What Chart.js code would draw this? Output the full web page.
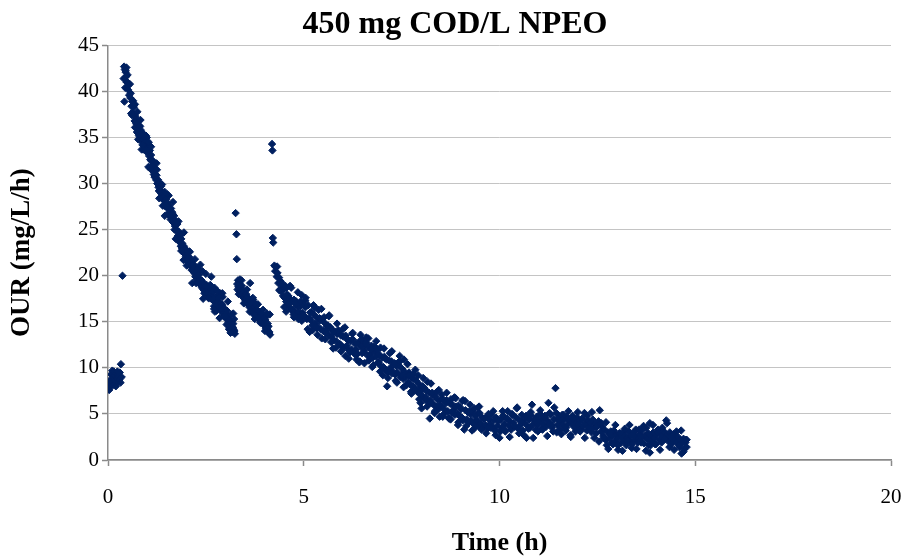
<!DOCTYPE html>
<html>
<head>
<meta charset="utf-8">
<title>450 mg COD/L NPEO</title>
<script src="https://cdn.jsdelivr.net/npm/chart.js@4.4.1/dist/chart.umd.min.js"></script>
<style>
  html, body { margin: 0; padding: 0; background: #ffffff; }
  #chart { display: block; }
</style>
</head>
<body>
<canvas id="chart" width="910" height="559"></canvas>
<script>
const chartTitle = "450 mg COD/L NPEO";
const xAxisTitle = "Time (h)";
const yAxisTitle = "OUR (mg/L/h)";
const xTicks = [0, 5, 10, 15, 20];
const yTicks = [0, 5, 10, 15, 20, 25, 30, 35, 40, 45];

// [time (h), OUR (mg/L/h)]
const baselinePoints = [
  [0.02, 8.2], [0.03, 7.6], [0.05, 8.0], [0.06, 8.7], [0.08, 9.3], [0.09, 8.4], [0.11, 9.7], [0.12, 8.1],
  [0.14, 9.0], [0.15, 9.6], [0.17, 9.2], [0.18, 8.6], [0.20, 8.0], [0.21, 9.4], [0.23, 8.9], [0.24, 9.6],
  [0.26, 8.5], [0.27, 9.1], [0.29, 8.7], [0.30, 9.5], [0.32, 8.4], [0.33, 10.4], [0.35, 9.0], [0.37, 20.0],
];

const firstPulsePoints = [
  [0.40, 41.4], [0.41, 42.7], [0.42, 38.9], [0.43, 42.4], [0.44, 40.4], [0.45, 42.1], [0.46, 41.6], [0.47, 42.6],
  [0.48, 41.0], [0.50, 41.8], [0.51, 40.2], [0.52, 40.9], [0.54, 39.6], [0.56, 40.8], [0.57, 39.3], [0.58, 39.8],
  [0.60, 38.4], [0.62, 38.9], [0.63, 37.7], [0.65, 37.5], [0.66, 38.3], [0.68, 36.8], [0.69, 36.1], [0.70, 37.3],
  [0.72, 36.5], [0.73, 37.0], [0.74, 35.6], [0.76, 36.4], [0.77, 34.8], [0.78, 35.9], [0.80, 36.3], [0.82, 36.2],
  [0.83, 35.2], [0.85, 34.6], [0.86, 33.7], [0.87, 35.5], [0.89, 34.8], [0.91, 34.3], [0.92, 35.2], [0.94, 34.0],
  [0.96, 34.6], [0.97, 33.5], [0.99, 35.0], [1.00, 34.2], [1.02, 33.5], [1.03, 33.9], [1.05, 33.0], [1.07, 33.6],
  [1.08, 32.6], [1.10, 33.1], [1.12, 32.4], [1.13, 31.8], [1.15, 32.1], [1.16, 31.3], [1.18, 31.7], [1.20, 30.9],
  [1.21, 31.5], [1.23, 30.4], [1.24, 30.9], [1.26, 30.0], [1.28, 30.4], [1.29, 29.6], [1.31, 30.1], [1.32, 29.3],
  [1.34, 29.7], [1.36, 28.9], [1.37, 29.2], [1.39, 28.5], [1.41, 29.0], [1.42, 28.2], [1.44, 28.6], [1.46, 28.1],
  [1.47, 27.5], [1.49, 28.3], [1.51, 27.4], [1.52, 27.9], [1.54, 26.8], [1.56, 27.6], [1.58, 27.2], [1.59, 26.5],
  [1.61, 27.3], [1.63, 26.3], [1.64, 26.9], [1.66, 25.8], [1.67, 26.1], [1.69, 26.5], [1.71, 25.4], [1.72, 26.0],
  [1.74, 24.9], [1.75, 25.0], [1.77, 25.6], [1.78, 24.3], [1.80, 24.8], [1.81, 23.9], [1.83, 24.5], [1.84, 23.6],
  [1.86, 23.2], [1.87, 24.0], [1.89, 23.0], [1.90, 23.5], [1.92, 22.6], [1.94, 23.2], [1.95, 22.4], [1.97, 22.9],
  [1.99, 22.1], [2.00, 22.7], [2.02, 21.8], [2.04, 22.4], [2.05, 21.7], [2.07, 21.3], [2.08, 22.0], [2.10, 21.4],
  [2.12, 21.0], [2.13, 21.6], [2.15, 20.7], [2.16, 21.2], [2.18, 20.7], [2.20, 20.3], [2.21, 20.9], [2.23, 19.9],
  [2.24, 20.5], [2.26, 19.6], [2.28, 20.3], [2.29, 19.8], [2.31, 19.2], [2.32, 20.1], [2.34, 19.4], [2.35, 19.6],
  [2.37, 19.0], [2.39, 19.5], [2.40, 18.7], [2.42, 19.3], [2.44, 18.5], [2.45, 19.1], [2.47, 18.4], [2.48, 18.8],
  [2.50, 18.2], [2.52, 19.0], [2.53, 18.5], [2.55, 17.9], [2.57, 18.7], [2.58, 18.1], [2.60, 17.6], [2.62, 18.5],
  [2.63, 17.9], [2.65, 18.1], [2.66, 17.4], [2.68, 18.3], [2.70, 17.3], [2.71, 16.7], [2.73, 16.1], [2.74, 17.7],
  [2.76, 17.0], [2.78, 17.6], [2.79, 16.5], [2.81, 17.2], [2.83, 16.6], [2.84, 17.9], [2.86, 18.1], [2.87, 16.3],
  [2.89, 17.0], [2.91, 16.2], [2.92, 16.8], [2.94, 15.9], [2.96, 16.5], [2.97, 15.6], [2.99, 16.3], [3.00, 15.4],
  [3.02, 15.9], [3.03, 14.7], [3.05, 15.3], [3.07, 15.6], [3.08, 14.9], [3.10, 15.2], [3.11, 14.3], [3.13, 14.6],
  [3.15, 15.0], [3.16, 14.5], [3.18, 13.9], [3.20, 14.8], [3.21, 14.2], [3.23, 14.0], [3.24, 13.7],
];

const firstPulseScatter = [
  [0.45, 42.3], [0.49, 41.0], [0.53, 40.7], [0.59, 37.6], [0.64, 39.0], [0.71, 36.7], [0.75, 37.8], [0.79, 35.2],
  [0.84, 35.8], [0.88, 34.2], [0.93, 35.3], [0.98, 33.7], [1.04, 34.5], [1.09, 31.6], [1.14, 32.5], [1.19, 30.7],
  [1.25, 31.5], [1.30, 29.2], [1.35, 29.7], [1.40, 27.6], [1.45, 29.1], [1.50, 27.6], [1.55, 28.7], [1.60, 26.1],
  [1.65, 26.7], [1.70, 25.0], [1.76, 25.7], [1.82, 23.7], [1.88, 24.5], [1.93, 21.7], [1.98, 22.9], [2.03, 21.5],
  [2.09, 22.6], [2.14, 20.6], [2.19, 21.2], [2.25, 19.2], [2.30, 20.8], [2.36, 19.4], [2.41, 20.5], [2.46, 18.1],
  [2.51, 18.9], [2.56, 17.6], [2.61, 19.0], [2.67, 17.5], [2.72, 18.7], [2.77, 16.2], [2.82, 17.6], [2.88, 16.4],
  [2.93, 17.7], [2.98, 15.7], [3.04, 16.2], [3.09, 14.2], [3.14, 15.8], [3.19, 14.4], [3.22, 15.3],
  [0.62, 37.4], [0.69, 38.6], [0.76, 35.5], [0.83, 36.9], [0.90, 33.7], [0.97, 35.2], [1.03, 31.8], [1.10, 34.0],
  [1.17, 31.0], [1.24, 32.2], [1.31, 28.4], [1.38, 29.9], [1.45, 26.5], [1.52, 28.8], [1.59, 26.4], [1.66, 28.0],
  [1.73, 24.0], [1.80, 25.9], [1.87, 22.7], [1.94, 24.7], [2.01, 21.1], [2.08, 22.6], [2.15, 19.2], [2.22, 21.8],
  [2.29, 19.3], [2.36, 21.2], [2.43, 17.5], [2.50, 20.2], [2.57, 17.6], [2.64, 19.9], [2.71, 16.4], [2.78, 18.4],
  [2.85, 15.4], [2.92, 18.1], [2.99, 15.6], [3.06, 17.2], [3.13, 13.8], [3.20, 15.9],
];

const secondPulsePoints = [
  [3.26, 26.8], [3.28, 24.5], [3.29, 21.8],
  [3.30, 19.1], [3.31, 18.5], [3.32, 19.5], [3.33, 18.8], [3.35, 19.2], [3.36, 18.3], [3.37, 19.6], [3.39, 18.7],
  [3.40, 18.1], [3.42, 18.9], [3.43, 17.8], [3.45, 18.4], [3.46, 17.6], [3.48, 18.2], [3.50, 17.9], [3.51, 17.3],
  [3.53, 18.0], [3.54, 17.1], [3.56, 17.7], [3.58, 16.9], [3.59, 17.5], [3.61, 16.6], [3.63, 19.2], [3.63, 16.7],
  [3.64, 17.2], [3.66, 16.4], [3.68, 17.0], [3.69, 16.2], [3.71, 17.4], [3.72, 15.8], [3.74, 16.6], [3.76, 16.0],
  [3.77, 16.9], [3.79, 15.7], [3.80, 16.3], [3.82, 15.5], [3.84, 16.1], [3.85, 15.3], [3.87, 15.9], [3.88, 16.1],
  [3.90, 15.1], [3.92, 15.6], [3.93, 15.9], [3.95, 14.8], [3.97, 15.0], [3.98, 15.4], [4.00, 14.6], [4.02, 15.2],
  [4.03, 14.3], [4.05, 15.6], [4.07, 14.2], [4.08, 14.8], [4.10, 14.5], [4.11, 13.8], [4.13, 15.8], [4.14, 13.6],
  [3.34, 18.0], [3.41, 19.5], [3.47, 17.0], [3.55, 18.5], [3.62, 16.1], [3.70, 17.6], [3.75, 15.3], [3.83, 16.9],
  [3.89, 14.9], [3.96, 16.3], [4.01, 14.0], [4.06, 15.9], [4.12, 13.9],
];

const thirdPulsePoints = [
  [4.19, 34.3], [4.20, 33.6], [4.21, 24.1], [4.22, 23.6],
  [4.25, 21.1], [4.27, 20.5], [4.29, 20.9], [4.31, 19.9], [4.33, 20.3], [4.35, 19.2], [4.37, 19.8], [4.39, 18.5],
  [4.41, 19.4], [4.43, 18.3], [4.45, 19.0], [4.47, 17.8], [4.49, 18.6], [4.51, 17.6], [4.53, 18.9], [4.55, 17.2],
  [4.57, 18.0], [4.59, 16.9], [4.61, 17.8], [4.63, 16.6], [4.65, 17.5], [4.67, 16.4], [4.69, 17.3], [4.71, 16.2],
  [4.73, 16.3], [4.75, 17.4], [4.77, 16.0], [4.79, 16.9], [4.81, 17.2], [4.83, 15.9], [4.85, 16.7], [4.87, 16.1],
  [4.89, 17.0], [4.91, 16.7], [4.93, 15.7], [4.95, 17.9], [4.97, 16.0], [4.99, 16.8],
  [5.02, 15.6], [5.05, 16.6], [5.08, 15.3], [5.11, 16.8], [5.14, 15.4], [5.17, 15.2], [5.20, 16.1], [5.23, 14.1],
  [5.26, 15.8], [5.29, 14.8], [5.32, 15.5], [5.35, 14.5], [5.38, 16.3], [5.41, 15.1], [5.44, 14.2], [5.47, 15.3],
  [5.50, 14.0], [5.53, 14.9], [5.56, 13.8], [5.59, 14.5], [5.62, 14.6], [5.65, 13.5], [5.68, 14.4], [5.71, 13.4],
  [5.74, 14.1], [5.77, 13.0], [5.80, 13.9], [5.83, 12.9], [5.86, 13.7], [5.89, 13.9], [5.92, 12.6], [5.95, 13.5],
  [5.98, 12.3], [6.01, 13.4], [6.04, 12.2], [6.07, 13.5], [6.10, 12.4], [6.13, 13.0], [6.16, 11.9], [6.19, 12.9],
  [6.22, 12.0], [6.25, 13.1], [6.28, 11.7], [6.31, 12.6], [6.34, 12.0], [6.37, 11.5], [6.40, 12.7], [6.43, 10.7],
  [6.46, 12.3], [6.49, 11.6], [6.52, 12.8], [6.55, 11.9], [6.58, 12.5], [6.61, 12.7], [6.64, 11.3], [6.67, 12.2],
  [6.70, 11.5], [6.73, 12.4], [6.76, 11.1], [6.79, 12.3], [6.82, 11.8], [6.85, 11.2], [6.88, 11.9], [6.91, 10.6],
  [6.94, 11.4], [6.97, 10.2], [7.00, 11.1], [7.03, 10.1], [7.06, 11.2], [7.09, 9.8], [7.12, 10.9], [7.13, 8.0],
  [7.15, 9.5], [7.18, 10.8], [7.21, 10.0], [7.24, 10.7], [7.27, 9.6], [7.30, 10.4], [7.33, 9.3], [7.36, 10.2],
  [7.39, 9.5], [7.42, 10.3], [7.45, 10.7], [7.48, 9.0], [7.51, 9.9], [7.54, 8.8], [7.57, 9.6], [7.60, 9.0],
  [7.63, 9.2], [7.66, 8.4], [7.69, 9.5], [7.72, 8.2], [7.75, 8.9], [7.78, 8.0], [7.81, 8.8], [7.84, 7.6],
  [7.87, 8.6], [7.90, 7.4], [7.93, 8.3], [7.96, 7.2], [7.99, 7.9], [8.01, 5.6], [8.02, 7.6], [8.05, 6.9],
  [8.08, 7.8], [8.11, 6.8], [8.14, 7.5], [8.17, 6.4], [8.20, 7.3], [8.22, 4.5], [8.23, 6.5], [8.26, 6.2],
  [8.29, 7.1], [8.32, 6.0], [8.35, 6.9], [8.38, 5.8], [8.41, 6.6], [8.44, 5.5], [8.47, 4.7], [8.50, 6.5],
  [8.53, 5.8], [8.56, 6.6], [8.59, 5.5], [8.62, 6.3], [8.65, 6.5], [8.68, 5.3], [8.71, 4.5], [8.74, 6.1],
  [8.77, 5.2], [8.80, 6.0], [8.83, 5.4], [8.86, 4.9], [8.89, 5.8], [8.92, 5.0], [8.95, 5.9], [8.98, 4.8],
  [9.01, 5.5], [9.04, 4.6], [9.07, 6.5], [9.10, 3.3], [9.13, 5.4], [9.16, 4.4], [9.19, 5.2], [9.22, 4.1],
  [9.25, 5.0], [9.28, 4.3], [9.31, 5.3], [9.34, 3.9], [9.37, 4.8], [9.40, 4.2], [9.43, 5.0], [9.46, 3.7],
  [9.49, 5.1], [9.52, 4.0], [9.55, 4.6], [9.58, 3.5], [9.61, 4.5], [9.64, 3.8], [9.67, 4.7], [9.70, 3.4],
  [9.73, 4.4], [9.76, 3.9], [9.79, 4.9], [9.82, 3.6], [9.85, 4.3], [9.88, 3.2], [9.91, 4.6], [9.94, 3.7],
  [9.97, 4.2], [10.00, 2.4],
];

const thirdPulseScatter = [
  [4.32, 21.0], [4.38, 18.4], [4.44, 19.2], [4.50, 16.6], [4.56, 18.7], [4.62, 17.0], [4.68, 18.7], [4.74, 15.8],
  [4.80, 16.9], [4.86, 15.3], [4.92, 17.2], [4.98, 15.7], [5.04, 17.3], [5.10, 14.2], [5.16, 16.0], [5.22, 14.6],
  [5.28, 16.6], [5.34, 14.3], [5.40, 15.4], [5.46, 13.2], [5.52, 15.5], [5.58, 14.0], [5.64, 15.6], [5.70, 12.8],
  [5.76, 13.9], [5.82, 12.2], [5.88, 14.1], [5.94, 12.5], [6.00, 14.2], [6.06, 11.3], [6.12, 13.1], [6.18, 11.7],
  [6.24, 13.7], [6.30, 11.5], [6.36, 12.7], [6.42, 10.6], [6.48, 13.1], [6.54, 11.7], [6.60, 13.3], [6.66, 10.8],
  [6.72, 12.0], [6.78, 10.3], [6.84, 12.2], [6.90, 10.6], [6.96, 12.2], [7.02, 9.2], [7.08, 11.0], [7.14, 9.6],
  [7.20, 11.6], [7.26, 9.4], [7.32, 10.5], [7.38, 8.4], [7.44, 10.7], [7.50, 9.2], [7.56, 10.9], [7.62, 8.1],
  [7.68, 9.2], [7.74, 7.4], [7.80, 9.3], [7.86, 7.7], [7.92, 9.2], [7.98, 6.2], [8.04, 8.0], [8.10, 6.5],
  [8.16, 8.5], [8.22, 6.2], [8.28, 7.3], [8.34, 5.1], [8.40, 7.4], [8.46, 6.0], [8.52, 7.1], [8.58, 5.0],
  [8.64, 6.2], [8.70, 4.6], [8.76, 6.6], [8.82, 5.1], [8.88, 6.7], [8.94, 3.8], [9.00, 5.7], [9.06, 4.3],
  [9.12, 6.4], [9.18, 4.2], [9.24, 5.3], [9.30, 3.2], [9.36, 5.6], [9.42, 4.3], [9.48, 5.8], [9.54, 3.3],
  [9.60, 4.5], [9.66, 2.9], [9.72, 5.0], [9.78, 3.5], [9.84, 5.3], [9.90, 2.7], [9.96, 4.4],
  [4.55, 16.1], [4.65, 18.9], [4.75, 15.5], [4.85, 18.2], [4.95, 15.1], [5.05, 17.6], [5.15, 13.9], [5.25, 16.8],
  [5.35, 13.6], [5.45, 16.4], [5.55, 13.1], [5.65, 15.7], [5.75, 12.1], [5.85, 14.8], [5.95, 11.8], [6.05, 14.4],
  [6.15, 11.0], [6.25, 13.8], [6.35, 10.9], [6.45, 13.6], [6.55, 10.5], [6.65, 13.2], [6.75, 10.1], [6.85, 12.9],
  [6.95, 9.6], [7.05, 12.1], [7.15, 8.9], [7.25, 11.8], [7.35, 8.6], [7.45, 11.3], [7.55, 7.9], [7.65, 10.4],
  [7.75, 7.2], [7.85, 9.8], [7.95, 6.6], [8.05, 8.9], [8.15, 5.8], [8.25, 8.3], [8.35, 5.3], [8.45, 7.6],
  [8.55, 4.7], [8.65, 7.3], [8.75, 4.4], [8.85, 6.8], [8.95, 4.1], [9.05, 6.4], [9.15, 3.7], [9.25, 6.0],
  [9.35, 3.4], [9.45, 5.7],
];

const tailPoints = [
  [10.03, 4.4], [10.06, 3.5], [10.09, 4.8], [10.12, 3.9], [10.15, 3.1], [10.18, 4.5], [10.21, 5.3], [10.24, 3.7],
  [10.27, 4.2], [10.30, 3.3], [10.33, 4.9], [10.36, 4.0], [10.39, 3.6], [10.42, 4.6], [10.45, 5.7], [10.48, 3.4],
  [10.51, 4.3], [10.54, 3.8], [10.57, 4.9], [10.60, 3.2], [10.63, 4.1], [10.66, 4.6], [10.69, 2.4], [10.72, 3.7],
  [10.75, 4.4], [10.78, 3.5], [10.81, 4.8], [10.83, 6.0], [10.86, 3.9], [10.89, 4.3], [10.92, 3.3], [10.95, 4.7],
  [10.98, 3.8], [11.01, 4.2], [11.04, 5.0], [11.07, 3.4], [11.10, 4.5], [11.13, 3.9], [11.16, 4.8], [11.19, 3.6],
  [11.22, 4.3], [11.25, 6.2], [11.28, 4.0], [11.31, 4.9], [11.34, 3.5], [11.37, 3.1], [11.40, 4.4], [11.43, 7.8],
  [11.45, 5.1], [11.48, 3.8], [11.51, 4.6], [11.54, 3.3], [11.57, 4.2], [11.60, 4.9], [11.63, 3.7], [11.66, 4.4],
  [11.69, 3.2], [11.72, 4.7], [11.75, 3.9], [11.78, 4.3], [11.81, 2.7], [11.84, 4.0], [11.87, 4.8], [11.90, 3.6],
  [11.93, 4.2], [11.96, 3.4], [11.99, 4.6], [12.02, 3.8], [12.05, 4.1], [12.08, 3.3], [12.11, 4.5], [12.14, 3.7],
  [12.17, 5.1], [12.20, 3.9], [12.23, 3.2], [12.26, 4.3], [12.29, 3.6], [12.32, 4.0], [12.35, 3.0], [12.38, 4.4],
  [12.41, 3.5], [12.44, 3.9], [12.47, 2.9], [12.50, 3.7], [12.53, 4.2], [12.56, 5.4], [12.59, 3.1], [12.62, 3.6],
  [12.65, 2.6], [12.68, 3.3], [12.71, 2.2], [12.74, 1.6], [12.77, 3.0], [12.80, 2.4], [12.83, 2.8], [12.86, 1.9],
  [12.89, 2.6], [12.92, 3.2], [12.95, 2.0], [12.98, 2.7], [13.01, 2.3], [13.03, 1.1], [13.06, 2.9], [13.09, 1.8],
  [13.12, 2.5], [13.15, 3.0], [13.18, 2.1], [13.21, 2.7], [13.24, 1.6], [13.27, 2.4], [13.30, 3.1], [13.33, 2.0],
  [13.36, 2.6], [13.39, 1.7], [13.42, 2.9], [13.45, 2.2], [13.48, 3.3], [13.51, 2.4], [13.54, 1.9], [13.57, 2.8],
  [13.60, 2.1], [13.63, 3.2], [13.66, 2.5], [13.69, 1.8], [13.72, 2.7], [13.75, 3.5], [13.78, 2.3], [13.81, 1.6],
  [13.84, 4.0], [13.84, 0.8], [13.87, 2.6], [13.90, 2.0], [13.93, 3.0], [13.96, 2.4], [13.99, 1.7], [14.02, 2.8],
  [14.05, 3.3], [14.08, 2.2], [14.11, 2.9], [14.14, 1.9], [14.17, 2.6], [14.20, 3.1], [14.23, 2.3], [14.26, 4.3],
  [14.29, 2.7], [14.32, 2.0], [14.35, 3.0], [14.38, 2.4], [14.41, 1.8], [14.44, 2.8], [14.47, 2.2], [14.50, 2.6],
  [14.53, 1.9], [14.56, 2.5], [14.59, 1.4], [14.62, 2.2], [14.65, 0.7], [14.67, 1.8], [14.70, 2.3], [14.72, 1.2],
  [14.75, 1.9], [14.78, 1.4], [14.78, 2.2],
];

const tailScatter = [
  [10.02, 3.1], [10.08, 5.3], [10.14, 3.2], [10.20, 4.5], [10.26, 2.5], [10.32, 5.0], [10.38, 3.7], [10.44, 5.6],
  [10.50, 2.9], [10.56, 4.2], [10.62, 2.7], [10.68, 4.8], [10.74, 3.4], [10.80, 5.2], [10.86, 2.4], [10.92, 4.4],
  [10.98, 3.1], [11.04, 5.4], [11.10, 3.3], [11.16, 4.6], [11.22, 2.6], [11.28, 5.1], [11.34, 3.8], [11.40, 5.7],
  [11.46, 3.0], [11.52, 4.3], [11.58, 2.8], [11.64, 4.9], [11.70, 3.5], [11.76, 5.3], [11.82, 2.5], [11.88, 4.5],
  [11.94, 3.1], [12.00, 5.2], [12.06, 3.1], [12.12, 4.4], [12.18, 2.4], [12.24, 4.8], [12.30, 3.4], [12.36, 5.2],
  [12.42, 2.4], [12.48, 3.6], [12.54, 2.0], [12.60, 4.0], [12.66, 2.4], [12.72, 4.1], [12.78, 1.2], [12.84, 3.1],
  [12.90, 1.7], [12.96, 3.8], [13.02, 1.6], [13.08, 2.9], [13.14, 1.0], [13.20, 3.4], [13.26, 2.1], [13.32, 3.8],
  [13.38, 1.3], [13.44, 2.6], [13.50, 1.2], [13.56, 3.3], [13.62, 1.9], [13.68, 3.7], [13.74, 1.0], [13.80, 2.9],
  [13.86, 1.6], [13.92, 3.8], [13.98, 1.7], [14.04, 3.0], [14.10, 1.1], [14.16, 3.5], [14.22, 2.3], [14.28, 4.0],
  [14.34, 1.4], [14.40, 2.7], [14.46, 1.1], [14.52, 3.1], [14.58, 1.6], [14.64, 3.2], [14.70, 0.9], [14.76, 2.2],
];

const serif = "'Liberation Serif', 'Times New Roman', serif";
const markerColor = "#002060";
const axisColor = "#8a8a8a";

function toXY(points) {
  return points.map(([x, y]) => ({ x, y }));
}

const ourData = [
  ...toXY(baselinePoints),
  ...toXY(firstPulsePoints),
  ...toXY(firstPulseScatter),
  ...toXY(secondPulsePoints),
  ...toXY(thirdPulsePoints),
  ...toXY(thirdPulseScatter),
  ...toXY(tailPoints),
  ...toXY(tailScatter),
];

new Chart(document.getElementById("chart"), {
  type: "scatter",
  data: {
    datasets: [
      {
        label: "OUR",
        data: ourData,
        pointStyle: "rectRot",
        pointRadius: 3.7,
        pointBorderWidth: 1,
        backgroundColor: markerColor,
        borderColor: markerColor,
      },
    ],
  },
  options: {
    responsive: false,
    animation: false,
    layout: {
      autoPadding: false,
      padding: { left: 0, right: 0, top: 0, bottom: 0 },
    },
    plugins: {
      legend: { display: false },
      tooltip: { enabled: false },
      title: {
        display: true,
        text: chartTitle,
        color: "#000000",
        font: { family: serif, size: 32, weight: "bold" },
        padding: { top: 6, bottom: 1 },
      },
    },
    scales: {
      x: {
        type: "linear",
        min: xTicks[0],
        max: xTicks[xTicks.length - 1],
        afterBuildTicks: (scale) => {
          scale.ticks = xTicks.map((value) => ({ value }));
        },
        afterFit: (scale) => {
          scale.height = 99;
          scale.paddingLeft = 0;
          scale.paddingRight = 19;
        },
        grid: {
          drawOnChartArea: false,
          drawTicks: true,
          tickLength: 6,
          tickColor: axisColor,
          tickWidth: 1.5,
        },
        border: { color: axisColor, width: 1.5 },
        ticks: {
          color: "#000000",
          padding: 19,
          maxRotation: 0,
          font: { family: serif, size: 21 },
        },
        title: {
          display: true,
          text: xAxisTitle,
          color: "#000000",
          font: { family: serif, size: 26, weight: "bold" },
          padding: { top: 0, bottom: 0 },
        },
      },
      y: {
        type: "linear",
        min: yTicks[0],
        max: yTicks[yTicks.length - 1],
        afterBuildTicks: (scale) => {
          scale.ticks = yTicks.map((value) => ({ value }));
        },
        afterFit: (scale) => {
          scale.width = 108;
        },
        grid: {
          color: "#c4c4c4",
          lineWidth: 1,
          borderDash: [2, 2],
          drawTicks: true,
          tickLength: 6,
          tickColor: axisColor,
          tickWidth: 1.5,
          tickBorderDash: [],
        },
        border: { color: axisColor, width: 1.5 },
        ticks: {
          color: "#000000",
          padding: 3,
          font: { family: serif, size: 21 },
        },
        title: {
          display: true,
          text: yAxisTitle,
          color: "#000000",
          font: { family: serif, size: 27, weight: "bold" },
          padding: { top: 6, bottom: 0 },
        },
      },
    },
  },
});
</script>
</body>
</html>
